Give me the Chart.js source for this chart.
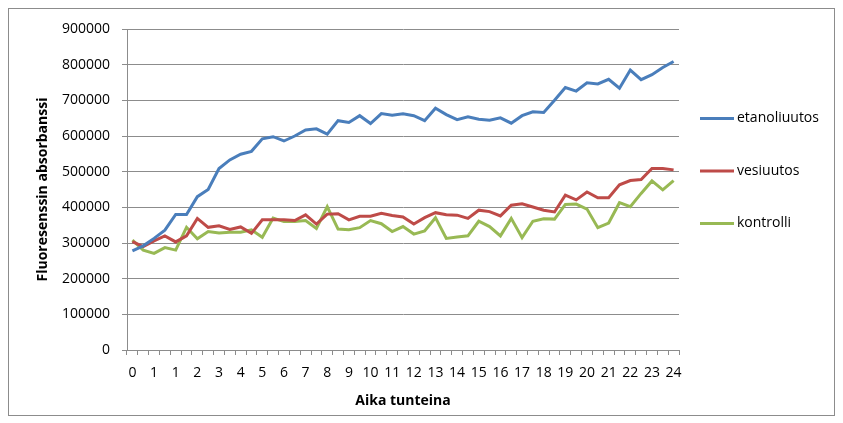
<!DOCTYPE html>
<html>
<head>
<meta charset="utf-8">
<script src="https://cdn.jsdelivr.net/npm/chart.js@4/dist/chart.umd.min.js"></script>
<style>
  html, body { margin: 0; padding: 0; background: #fff; }
  #wrap { width: 843px; height: 423px; }
</style>
</head>
<body>
<div id="wrap"><canvas id="myChart" width="843" height="423"></canvas></div>
<script>
// x-axis labels, shown on every other half-hour sample
let tickLabels = ['0','1','1','2','3','4','5','6','7','8','9','10','11','12','13','14','15','16','17','18','19','20','21','22','23','24'];
// measured fluorescence per sample
let etanoli = [278000,292000,313000,336000,380000,380000,430000,450000,509000,533000,
  549000,557000,592000,598000,586000,600000,617000,620000,605000,643000,
  638000,657000,635000,663000,658000,662000,657000,643000,678000,660000,
  646000,654000,647000,644000,651000,636000,657000,668000,666000,700000,
  736000,726000,749000,746000,759000,734000,785000,758000,772000,792000,809000];
let vesi = [304000,290000,306000,320000,303000,320000,369000,344000,348000,338000,
  345000,327000,365000,365000,365000,363000,379000,353000,381000,382000,
  365000,375000,375000,383000,377000,373000,353000,371000,385000,379000,
  378000,369000,392000,388000,376000,406000,410000,401000,392000,387000,
  434000,421000,443000,427000,427000,463000,475000,478000,509000,509000,505000];
let kontrolli = [308000,280000,271000,287000,280000,344000,312000,332000,328000,330000,
  330000,337000,316000,370000,360000,360000,363000,341000,402000,339000,
  337000,343000,363000,354000,332000,346000,325000,334000,371000,313000,
  317000,320000,361000,346000,320000,369000,315000,361000,368000,367000,
  408000,409000,395000,343000,356000,413000,402000,439000,474000,449000,475000];

let labels = etanoli.map((v, i) => i % 2 === 0 ? tickLabels[i / 2] : '');

const gridGrey = '#8c8c8c';

// outer frame around the whole chart
const frame = {
  id: 'frame',
  beforeDraw(chart) {
    const ctx = chart.ctx;
    ctx.save();
    ctx.fillStyle = '#fff';
    ctx.fillRect(0, 0, chart.width, chart.height);
    ctx.strokeStyle = '#8c8c8c';
    ctx.lineWidth = 1;
    ctx.strokeRect(8.5, 8.5, 826, 407);
    ctx.restore();
  }
};

// legend to the right of the plot, Excel style
const sideLegend = {
  id: 'sideLegend',
  afterDraw(chart) {
    const {ctx, chartArea} = chart;
    const midY = (chartArea.top + chartArea.bottom) / 2 - 18.5;
    ctx.save();
    ctx.font = '14px "Open Sans"';
    ctx.textBaseline = 'middle';
    ctx.fillStyle = '#000';
    chart.data.datasets.forEach((ds, i) => {
      const y = midY + (i - 1) * 52.5;
      ctx.strokeStyle = ds.borderColor;
      ctx.lineWidth = 3;
      ctx.beginPath();
      ctx.moveTo(chartArea.right + 21, y);
      ctx.lineTo(chartArea.right + 55, y);
      ctx.stroke();
      ctx.fillText(ds.label, chartArea.right + 58, y);
    });
    ctx.restore();
  }
};

function renderChart(){
  Chart.defaults.font.family = '"Open Sans", sans-serif';
  Chart.defaults.font.size = 14;
  Chart.defaults.color = '#000';
  let ctx = document.getElementById("myChart");
  new Chart(ctx, {
    type: 'line',
    data: {
      labels: labels,
      datasets: [
        { data: etanoli, label: "etanoliuutos", borderColor: "#4a7ebb" },
        { data: vesi, label: "vesiuutos", borderColor: "#be4b48" },
        { data: kontrolli, label: "kontrolli", borderColor: "#98b954" }
      ]
    },
    options: {
      responsive: false,
      animation: false,
      devicePixelRatio: 1,
      elements: {
        line: { borderWidth: 3, tension: 0, fill: false },
        point: { radius: 0 }
      },
      layout: { padding: { left: 31, top: 29, right: 164, bottom: 0 } },
      plugins: {
        legend: { display: false },
        tooltip: { enabled: false }
      },
      scales: {
        x: {
          offset: true,
          grid: { offset: true, drawOnChartArea: false, drawTicks: true, tickLength: 5, color: gridGrey },
          border: { color: gridGrey },
          ticks: { autoSkip: false, maxRotation: 0, minRotation: 0, padding: 10 },
          title: { display: true, text: 'Aika tunteina', font: { weight: 'bold', size: 14 }, padding: { top: 4, bottom: 14 } },
          afterFit(scale) { scale.height = 73; }
        },
        y: {
          min: 0,
          max: 900000,
          ticks: { stepSize: 100000, padding: 12, callback: v => String(v) },
          grid: { color: gridGrey, tickLength: 5 },
          border: { color: gridGrey },
          title: { display: true, text: 'Fluoresenssin absorbanssi', font: { weight: 'bold', size: 14 }, padding: { top: 4, bottom: 4 } },
          afterFit(scale) { scale.width = 96; }
        }
      }
    },
    plugins: [frame, sideLegend]
  });
}

renderChart()
</script>
</body>
</html>
